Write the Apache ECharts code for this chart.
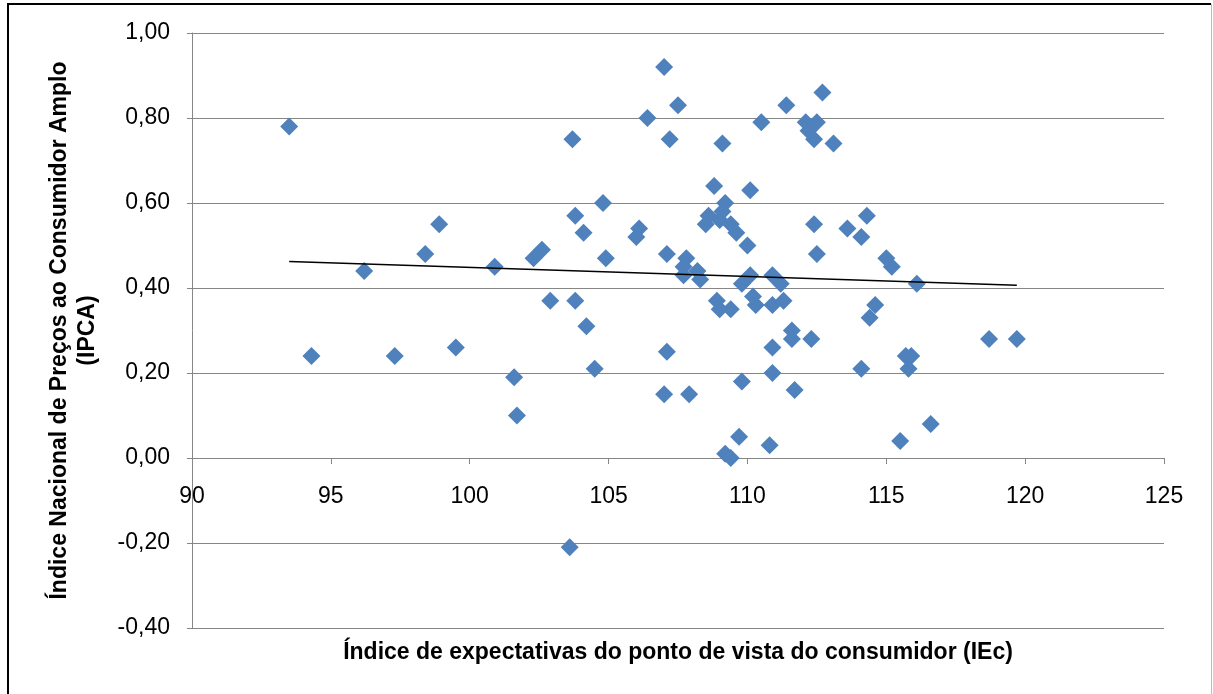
<!DOCTYPE html>
<html>
<head>
<meta charset="utf-8">
<script src="https://cdn.jsdelivr.net/npm/echarts@6/dist/echarts.min.js"></script>
<style>
html,body{margin:0;padding:0;background:#fff;}
#chart{width:1213px;height:694px;}
</style>
</head>
<body>
<div id="chart"></div>
<script>
// IEc (x) and IPCA (y) values
const iec = [93.5,94.3,96.2,97.3,98.4,98.9,99.5,100.9,101.6,101.7,102.3,102.6,102.9,103.6,103.7,103.8,103.8,104.1,104.2,104.5,104.8,104.9,106.0,106.1,106.4,107.0,107.0,107.1,107.1,107.2,107.5,107.8,107.7,107.7,108.2,108.3,107.9,108.5,108.6,108.8,108.9,109.0,109.0,109.1,109.2,109.1,109.2,109.4,109.4,109.4,109.6,109.7,109.8,109.8,110.0,110.1,110.1,110.2,110.3,110.5,110.8,110.9,110.9,110.9,110.9,111.2,111.3,111.4,111.6,111.6,111.7,112.1,112.2,112.3,112.4,112.4,112.5,112.5,112.7,113.1,113.6,114.1,114.1,114.3,114.4,114.6,115.0,115.2,115.5,115.7,115.8,115.9,116.1,116.6,118.7,119.7];
const ipca = [0.78,0.24,0.44,0.24,0.48,0.55,0.26,0.45,0.19,0.10,0.47,0.49,0.37,-0.21,0.75,0.57,0.37,0.53,0.31,0.21,0.60,0.47,0.52,0.54,0.80,0.92,0.15,0.48,0.25,0.75,0.83,0.47,0.45,0.43,0.44,0.42,0.15,0.55,0.57,0.64,0.37,0.35,0.56,0.58,0.60,0.74,0.01,0.00,0.35,0.55,0.53,0.05,0.18,0.41,0.50,0.63,0.43,0.38,0.36,0.79,0.03,0.20,0.26,0.36,0.43,0.41,0.37,0.83,0.30,0.28,0.16,0.79,0.77,0.28,0.75,0.55,0.79,0.48,0.86,0.74,0.54,0.52,0.21,0.57,0.33,0.36,0.47,0.45,0.04,0.24,0.21,0.24,0.41,0.08,0.28,0.28];
const xTitle = 'Índice de expectativas do ponto de vista do consumidor (IEc)';
const yTitle = 'Índice Nacional de Preços ao Consumidor Amplo\n(IPCA)';
const yMin = -0.4, yMax = 1.0, yStep = 0.2;
const xMin = 90, xMax = 125, xStep = 5;

const points = iec.map((x, i) => [x, ipca[i]]);
// linear trend (least squares) from the data
const n = iec.length;
const mx = iec.reduce((a, b) => a + b, 0) / n;
const my = ipca.reduce((a, b) => a + b, 0) / n;
let sxy = 0, sxx = 0;
for (let i = 0; i < n; i++) { sxy += (iec[i] - mx) * (ipca[i] - my); sxx += (iec[i] - mx) ** 2; }
const slope = sxy / sxx, icpt = my - slope * mx;
const dmin = Math.min(...iec), dmax = Math.max(...iec);
const trend = [[dmin, icpt + slope * dmin], [dmax, icpt + slope * dmax]];

const FONT = '"Liberation Sans", Arial, sans-serif';
const chart = echarts.init(document.getElementById('chart'), null, {renderer: 'canvas'});
chart.setOption({
  animation: false,
  backgroundColor: '#fff',
  grid: {left: 192, right: 49, top: 33, bottom: 66},
  xAxis: {
    type: 'value', min: xMin, max: xMax, interval: xStep,
    axisLine: {show: true, onZero: false, lineStyle: {color: '#868686', width: 1}},
    axisTick: {show: true, length: 6, lineStyle: {color: '#868686'}},
    axisLabel: {color: '#000', fontSize: 23, fontFamily: FONT, margin: 27},
    splitLine: {show: false}
  },
  yAxis: {
    type: 'value', min: yMin, max: yMax, interval: yStep,
    axisLine: {show: true, onZero: false, lineStyle: {color: '#868686', width: 1}},
    axisTick: {show: true, length: 5, lineStyle: {color: '#868686'}},
    axisLabel: {color: '#000', fontSize: 23, fontFamily: FONT, margin: 22,
      formatter: v => v.toFixed(2).replace('.', ',')},
    splitLine: {show: true, lineStyle: {color: '#868686', width: 1}},
    name: yTitle, nameLocation: 'middle', nameRotate: 90, nameGap: 90,
    nameTextStyle: {color: '#000', fontSize: 23, fontWeight: 'bold', fontFamily: FONT, lineHeight: 28}
  },
  series: [
    {type: 'scatter', data: points, symbol: 'diamond', symbolSize: 18,
      itemStyle: {color: '#4F81BD', opacity: 1}, z: 2},
    {type: 'line', data: trend, symbol: 'none', lineStyle: {color: '#000', width: 1.5}, z: 3}
  ],
  graphic: [
    {type: 'polyline', z: 10, shape: {points: [[8, 694], [8, 4], [1211, 4]]}, style: {stroke: '#000', lineWidth: 2, fill: null}},
    {type: 'line', z: 10, shape: {x1: 1211.5, y1: 4, x2: 1211.5, y2: 694}, style: {stroke: '#bbb', lineWidth: 1}}
  ]
});
// move the x axis (line, ticks, labels) so that it crosses the y axis at 0,
// and centre the x-axis title under the plot area
const yZero = chart.convertToPixel({yAxisIndex: 0}, 0);
const yBottom = chart.convertToPixel({yAxisIndex: 0}, yMin);
const xMid = chart.convertToPixel({xAxisIndex: 0}, (xMin + xMax) / 2);
chart.setOption({
  xAxis: {offset: yZero - yBottom},
  graphic: [
    {type: 'polyline', z: 10, shape: {points: [[8, 694], [8, 4], [1211, 4]]}, style: {stroke: '#000', lineWidth: 2, fill: null}},
    {type: 'line', z: 10, shape: {x1: 1211.5, y1: 4, x2: 1211.5, y2: 694}, style: {stroke: '#bbb', lineWidth: 1}},
    {type: 'text', x: xMid, y: yBottom + 13, z: 10,
      style: {text: xTitle, fill: '#000', font: 'bold 23px ' + FONT, align: 'center', verticalAlign: 'top'}}
  ]
}, {replaceMerge: ['graphic']});
</script>
</body>
</html>
